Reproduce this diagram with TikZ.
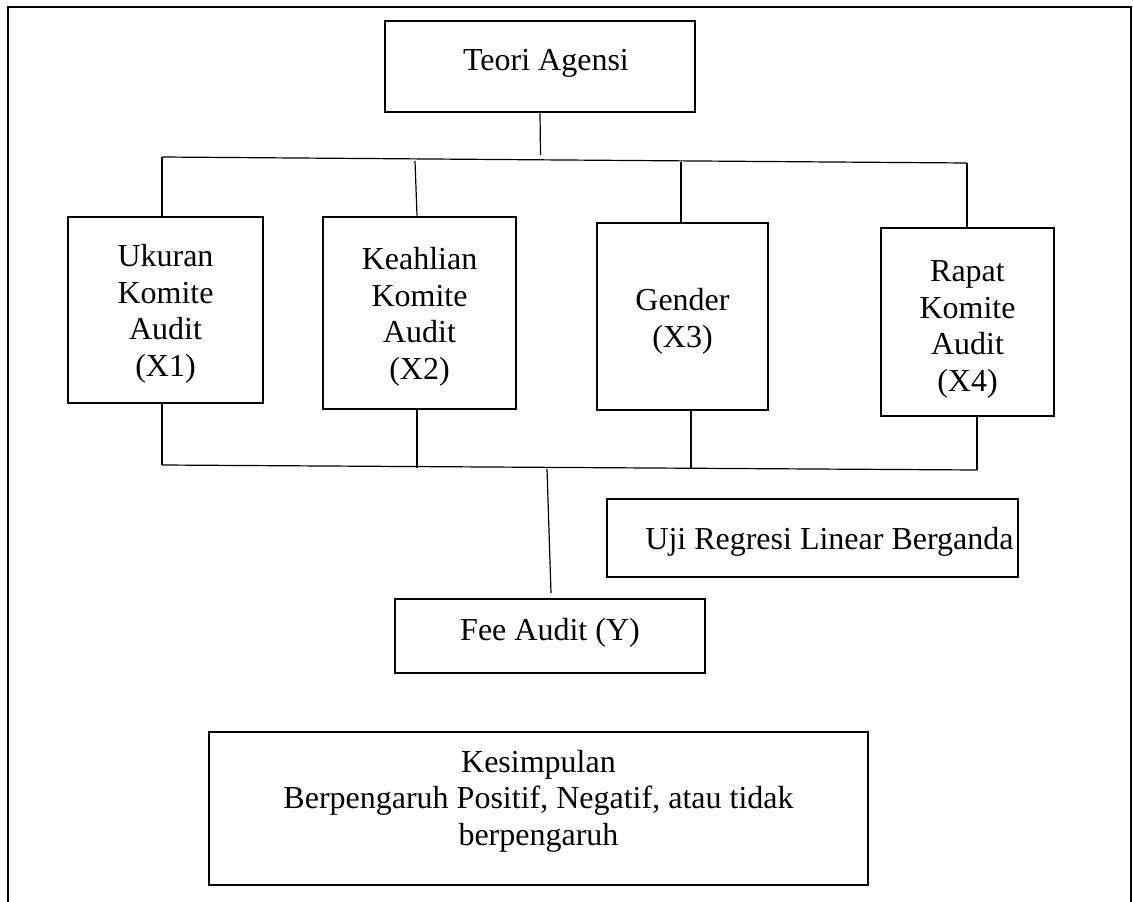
\documentclass[tikz,border=0pt]{standalone}
\usepackage{fontspec}
\setmainfont{Liberation Serif}
\usepackage{tikz}

\begin{document}
\begin{tikzpicture}[x=1pt, y=-1pt, font=\fontsize{32}{36.5}\selectfont,
                    main node/.style={rectangle,draw,line width=2.6pt,align=center,inner sep=0pt},
                    link/.style={line width=1.2pt}]

  \useasboundingbox (0,0) rectangle (1133,902);
  \draw[line width=2.2pt] (8,902) -- (8,7) -- (1131,7) -- (1131,902);

  \node[main node, minimum width=310, minimum height=91, text depth=14pt] (teori) at (540,66.5) {\hspace*{12pt}Teori Agensi};
  \node[main node, minimum width=195, minimum height=186, text height=132pt, text depth=0pt] (x1) at (165.5,310) {Ukuran\\Komite\\Audit\\(X1)};
  \node[main node, minimum width=193, minimum height=192, text height=132pt, text depth=0pt] (x2) at (419.5,313) {Keahlian\\Komite\\Audit\\(X2)};
  \node[main node, minimum width=171, minimum height=187, text height=61pt, text depth=0pt] (x3) at (682.5,316.5) {Gender\\(X3)};
  \node[main node, minimum width=173, minimum height=188, text height=138pt, text depth=0pt] (x4) at (967.5,322) {Rapat\\Komite\\Audit\\(X4)};
  \node[main node, minimum width=411, minimum height=78, text depth=0pt] (uji) at (812.5,538) {\hspace*{34pt}Uji Regresi Linear Berganda};
  \node[main node, minimum width=310, minimum height=74, text depth=13pt] (fee) at (550,636) {Fee Audit (Y)};
  \node[main node, minimum width=659, minimum height=153, text depth=22pt] (kes) at (538.5,808.5)
       {Kesimpulan\\Berpengaruh Positif, Negatif, atau tidak\\berpengaruh};

  \coordinate (tm) at (540.5,155);
  \coordinate (tl) at (162,157);
  \coordinate (t2) at (415,161);
  \coordinate (t3) at (681,162);
  \coordinate (tr) at (967,163);
  \coordinate (bl) at (162,465);
  \coordinate (b2) at (417,468);
  \coordinate (bm) at (547,469);
  \coordinate (b3) at (691,468);
  \coordinate (br) at (977,470);
  \coordinate (fm) at (551,593);

  \path[link]
  (teori.south) edge (tm)
  (tl) edge (tr)
  (tl) edge (tl |- x1.north)
  (t2) edge (b2 |- x2.north)
  (t3) edge (t3 |- x3.north)
  (tr) edge (tr |- x4.north)
  (bl |- x1.south) edge (bl)
  (b2 |- x2.south) edge (b2)
  (b3 |- x3.south) edge (b3)
  (br |- x4.south) edge (br)
  (bl) edge (br)
  (bm) edge (fm)
  ;
\end{tikzpicture}
\end{document}
